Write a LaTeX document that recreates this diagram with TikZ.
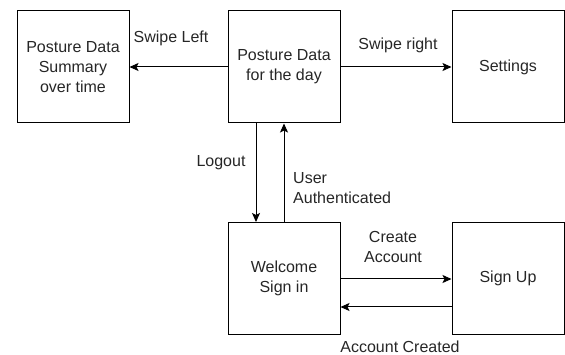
\documentclass[tikz,border=0pt]{standalone}
\usepackage{fontspec}
\setmainfont{Liberation Sans}
\usetikzlibrary{arrows.meta}
\begin{document}
\begin{tikzpicture}[x=1pt,y=-1pt,
  box/.style={draw=black, line width=1pt, minimum width=112pt, minimum height=112pt, inner sep=0pt, align=center, font=\fontsize{16}{20}\selectfont, text=black!85},
  lbl/.style={inner sep=0pt, align=center, font=\fontsize{16}{20}\selectfont, text=black!85},
  arr/.style={draw=black, line width=1pt, -{Stealth[length=9pt,width=8pt,inset=2pt]}}]
\useasboundingbox (0,0) rectangle (565,355);
\node[box] (summary) at (73,67) {Posture Data\\Summary\\over time};
\node[box] (day) at (284,67) {Posture Data\\for the day};
\node[box] (settings) at (508,67) {Settings};
\node[box] (welcome) at (284,278.5) {Welcome\\Sign in};
\node[box] (signup) at (508,278.5) {Sign Up};
\draw[arr] (day.west) -- (summary.east);
\draw[arr] (day.east) -- (settings.west);
\draw[arr] ([xshift=-28pt]day.south) -- ([xshift=-28pt]welcome.north);
\draw[arr] (welcome.north) -- (day.south);
\draw[arr] ([yshift=-0.5pt]welcome.east) -- ([yshift=-0.5pt]signup.west);
\draw[arr] ([yshift=-28.5pt]signup.west) -- ([yshift=-28.5pt]welcome.east);
\node[lbl] (l1) at (171,38) {Swipe Left};
\node[lbl] (l2) at (398,45) {Swipe right};
\node[lbl] (l3) at (221,163) {Logout};
\node[lbl, anchor=west, align=left] (l4) at (293,188) {User\\Authenticated};
\node[lbl] (l5) at (393,247) {Create\\Account};
\node[lbl] (l6) at (400,347) {Account Created};
\end{tikzpicture}
\end{document}
